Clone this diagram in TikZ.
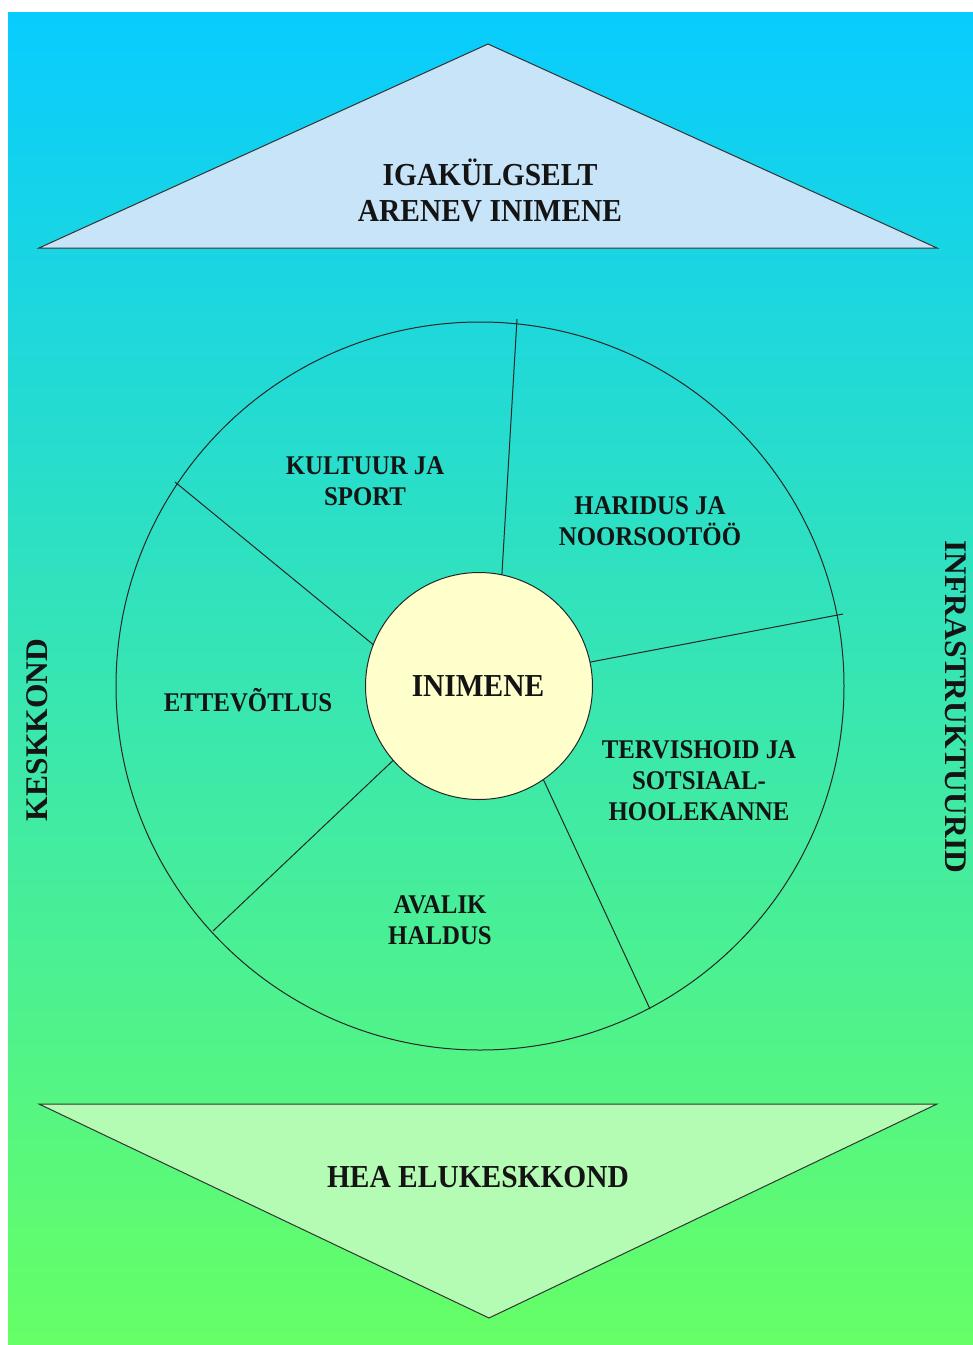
\documentclass[tikz,border=0pt]{standalone}
\usepackage{fontspec}
\setmainfont{Liberation Serif}
\newfontfamily\condfont[FakeStretch=0.92]{Liberation Serif}
\definecolor{bgtop}{RGB}{8,204,255}
\definecolor{bgmid}{RGB}{66,222,200}
\definecolor{bgbot}{RGB}{102,255,102}
\definecolor{tritop}{RGB}{200,228,248}
\definecolor{tribot}{RGB}{180,252,180}
\definecolor{core}{RGB}{255,255,204}
\begin{document}
\begin{tikzpicture}[x=1pt,y=-1pt,
  lbl/.style={font=\condfont\bfseries\fontsize{27}{31}\selectfont, align=center, inner sep=0pt, text=black!92},
  big/.style={font=\condfont\bfseries\fontsize{32}{36}\selectfont, align=center, inner sep=0pt, text=black!92},
  side/.style={font=\bfseries\fontsize{31.5}{36}\selectfont, inner sep=0pt, text=black!92},
  seg/.style={draw=black!85, line width=1pt},
  tri/.style={draw=black!80, line width=1pt, line join=miter}]
\useasboundingbox (0,0) rectangle (973,1345);
\fill[white] (0,0) rectangle (973,1345);
\shade[top color=bgtop, middle color=bgmid, bottom color=bgbot] (8,12) rectangle (973,1345);

% triangles
\coordinate (tA) at (488,44);
\coordinate (tL) at (39,248);
\coordinate (tR) at (937,248);
\draw[tri, fill=tritop] (tA) -- (tR) -- (tL) -- cycle;
\coordinate (bA) at (489,1318);
\coordinate (bL) at (39,1104);
\coordinate (bR) at (937,1104);
\draw[tri, fill=tribot] (bL) -- (bR) -- (bA) -- cycle;

% outer ring
\node[circle, draw=black!85, line width=1pt, minimum size=728pt, inner sep=0pt] (ring) at (480,686) {};

% sector dividers
\coordinate (i1) at (501,590);  \coordinate (o1) at (517,319);
\coordinate (i2) at (580,664);  \coordinate (o2) at (843,614);
\coordinate (i3) at (538,768);  \coordinate (o3) at (650,1009);
\coordinate (i4) at (402,752);  \coordinate (o4) at (213,931);
\coordinate (i5) at (381,651);  \coordinate (o5) at (175,482);
\draw[seg] (i1) -- (o1);
\draw[seg] (i2) -- (o2);
\draw[seg] (i3) -- (o3);
\draw[seg] (i4) -- (o4);
\draw[seg] (i5) -- (o5);

% centre
\node[circle, draw=black!85, line width=1pt, fill=core, minimum size=227pt, inner sep=0pt] (core) at (479,686) {};
\node[big] (inimene) at (478,686) {INIMENE};

% labels
\node[big] (topt) at (490,190) {IGAKÜLGSELT\\ARENEV INIMENE};
\node[big] (bott) at (478,1177) {HEA ELUKESKKOND};
\node[lbl] (kultuur) at (365,481) {KULTUUR JA\\SPORT};
\node[lbl] (haridus) at (650,521) {HARIDUS JA\\NOORSOOTÖÖ};
\node[lbl] (tervis) at (699,781) {TERVISHOID JA\\SOTSIAAL-\\HOOLEKANNE};
\node[lbl] (ettev) at (248,700) {ETTEVÕTLUS};
\node[lbl] (avalik) at (440,920) {AVALIK\\HALDUS};
\node[side, rotate=90] (kesk) at (37,730) {KESKKOND};
\node[side, rotate=-90] (infra) at (956,707) {INFRASTRUKTUURID};
\end{tikzpicture}
\end{document}
